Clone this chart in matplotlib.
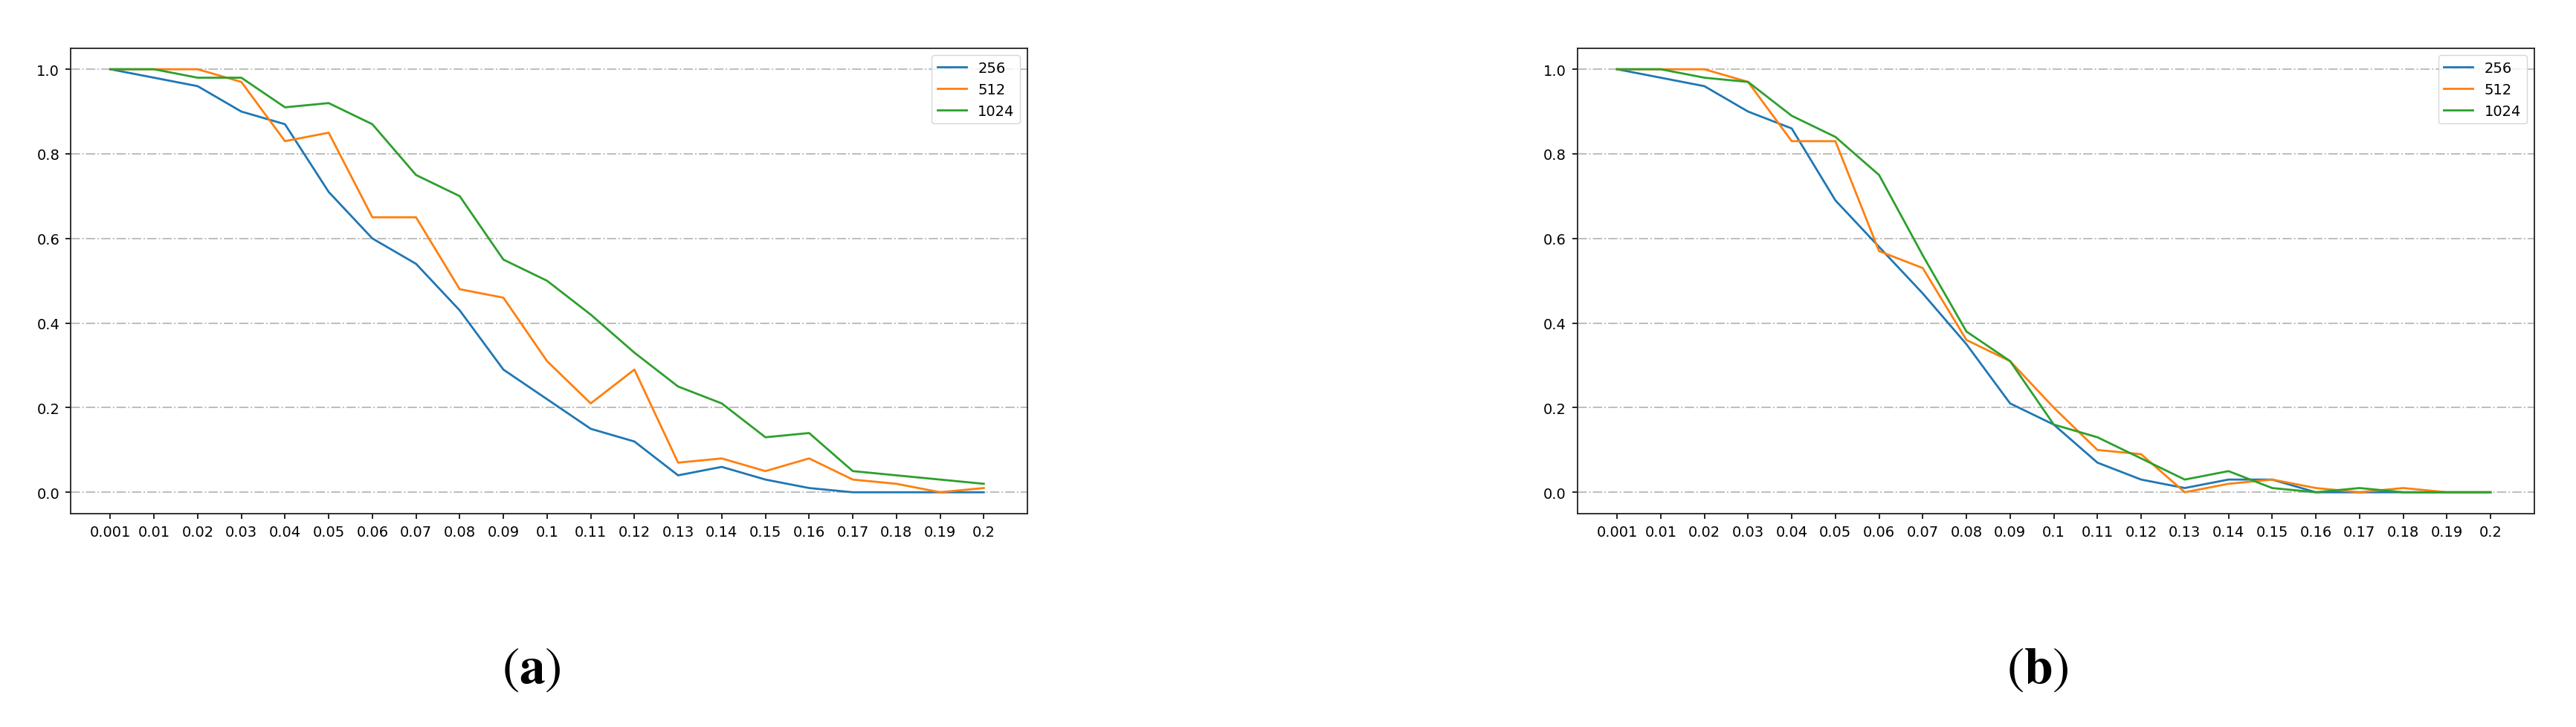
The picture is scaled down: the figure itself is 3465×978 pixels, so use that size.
import matplotlib
matplotlib.use("Agg")
import matplotlib.pyplot as plt
import numpy as np

# x categories (evenly spaced on the axis)
x_labels = ["0.001", "0.01", "0.02", "0.03", "0.04", "0.05", "0.06", "0.07",
            "0.08", "0.09", "0.1", "0.11", "0.12", "0.13", "0.14", "0.15",
            "0.16", "0.17", "0.18", "0.19", "0.2"]

series_names = ["256", "512", "1024"]

# panel (a)
a_256 = [1.0, 0.98, 0.96, 0.90, 0.87, 0.71, 0.60, 0.54, 0.43, 0.29, 0.22,
         0.15, 0.12, 0.04, 0.06, 0.03, 0.01, 0.0, 0.0, 0.0, 0.0]
a_512 = [1.0, 1.0, 1.0, 0.97, 0.83, 0.85, 0.65, 0.65, 0.48, 0.46, 0.31,
         0.21, 0.29, 0.07, 0.08, 0.05, 0.08, 0.03, 0.02, 0.0, 0.01]
a_1024 = [1.0, 1.0, 0.98, 0.98, 0.91, 0.92, 0.87, 0.75, 0.70, 0.55, 0.50,
          0.42, 0.33, 0.25, 0.21, 0.13, 0.14, 0.05, 0.04, 0.03, 0.02]

# panel (b)
b_256 = [1.0, 0.98, 0.96, 0.90, 0.86, 0.69, 0.58, 0.47, 0.35, 0.21, 0.16,
         0.07, 0.03, 0.01, 0.03, 0.03, 0.0, 0.0, 0.0, 0.0, 0.0]
b_512 = [1.0, 1.0, 1.0, 0.97, 0.83, 0.83, 0.57, 0.53, 0.36, 0.31, 0.20,
         0.10, 0.09, 0.0, 0.02, 0.03, 0.01, 0.0, 0.01, 0.0, 0.0]
b_1024 = [1.0, 1.0, 0.98, 0.97, 0.89, 0.84, 0.75, 0.56, 0.38, 0.31, 0.16,
          0.13, 0.08, 0.03, 0.05, 0.01, 0.0, 0.01, 0.0, 0.0, 0.0]

panels = [
    {"label": r"$(\mathbf{a})$", "data": [a_256, a_512, a_1024]},
    {"label": r"$(\mathbf{b})$", "data": [b_256, b_512, b_1024]},
]

plt.rcParams["mathtext.fontset"] = "stix"

fig = plt.figure(figsize=(34.66, 9.79), dpi=100)

ax_lefts = [0.02755, 0.61229]
caption_x = [0.2063, 0.7908]
idx = np.arange(len(x_labels))

for i, panel in enumerate(panels):
    ax = fig.add_axes([ax_lefts[i], 0.2935, 0.3712, 0.6394])
    for name, vals in zip(series_names, panel["data"]):
        ax.plot(idx, vals, linewidth=2.0, label=name)

    ax.set_xticks(idx)
    ax.set_xticklabels(x_labels)
    ax.set_xlim(-0.9, len(x_labels))
    ax.set_ylim(-0.05, 1.05)
    ax.set_yticks([0.0, 0.2, 0.4, 0.6, 0.8, 1.0])
    ax.tick_params(labelsize=14, length=5, width=1.2, pad=6)
    ax.grid(axis="y", linestyle="-.", color="#bdbdbd", linewidth=1.4)
    ax.set_axisbelow(True)
    for s in ax.spines.values():
        s.set_linewidth(1.3)
        s.set_color("#222222")

    ax.legend(loc="upper right", fontsize=14)

    fig.text(caption_x[i], 0.0807, panel["label"], fontsize=50,
             ha="center", va="center")

fig.savefig("out.png", dpi=100)
plt.close(fig)
